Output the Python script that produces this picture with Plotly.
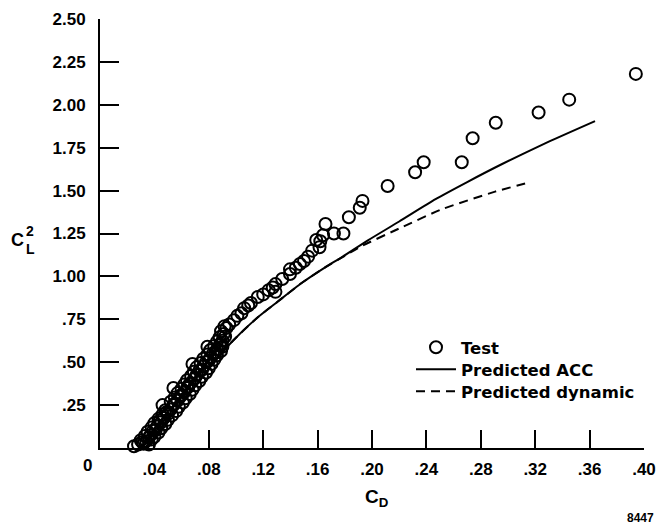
import plotly.graph_objects as go

# ---- data ----
test_cd = [
    # dense band, low C_D
    0.028, 0.032, 0.036, 0.030, 0.034, 0.038, 0.033, 0.037, 0.040, 0.035, 0.039, 0.043,
    0.038, 0.042, 0.045, 0.040, 0.045, 0.048, 0.043, 0.047, 0.050, 0.046, 0.050, 0.053,
    0.048, 0.052, 0.056, 0.046, 0.054, 0.058, 0.052, 0.057, 0.061, 0.055, 0.059, 0.063,
    0.057, 0.062, 0.066, 0.054, 0.060, 0.064, 0.068, 0.062, 0.066, 0.070, 0.064, 0.069,
    0.073, 0.067, 0.071, 0.075, 0.069, 0.073, 0.078, 0.068, 0.071, 0.076, 0.080, 0.074,
    0.078, 0.082, 0.076, 0.081, 0.084, 0.079, 0.083, 0.086, 0.079, 0.081, 0.086, 0.089,
    0.084, 0.088, 0.090, 0.086, 0.090, 0.088, 0.092, 0.089, 0.093, 0.0916,
    0.025, 0.031, 0.036, 0.041, 0.044, 0.049, 0.055, 0.060, 0.065, 0.070, 0.075, 0.080,
    0.085, 0.089, 0.091,
    # chain, mid C_D
    0.095, 0.0985, 0.101, 0.104, 0.106, 0.109, 0.111, 0.116, 0.120, 0.124, 0.127, 0.129,
    0.129, 0.134, 0.1397, 0.1397, 0.144, 0.147, 0.150, 0.153, 0.156, 0.159, 0.1614, 0.162,
    0.164, 0.1658, 0.172, 0.179, 0.183, 0.191, 0.193,
    # sparse, high C_D
    0.2115, 0.2317, 0.238, 0.266, 0.274, 0.291, 0.3225, 0.345, 0.394,
]
test_cl2 = [
    0.020, 0.025, 0.020, 0.045, 0.040, 0.050, 0.070, 0.075, 0.065, 0.095, 0.100, 0.090,
    0.120, 0.125, 0.115, 0.145, 0.150, 0.140, 0.170, 0.175, 0.165, 0.195, 0.200, 0.190,
    0.220, 0.225, 0.215, 0.250, 0.250, 0.240, 0.270, 0.275, 0.265, 0.295, 0.300, 0.290,
    0.320, 0.325, 0.315, 0.350, 0.345, 0.350, 0.340, 0.370, 0.375, 0.365, 0.395, 0.400,
    0.390, 0.420, 0.425, 0.415, 0.445, 0.450, 0.440, 0.490, 0.470, 0.475, 0.465, 0.495,
    0.500, 0.490, 0.520, 0.525, 0.515, 0.545, 0.550, 0.540, 0.590, 0.570, 0.575, 0.565,
    0.595, 0.600, 0.590, 0.620, 0.625, 0.645, 0.650, 0.680, 0.700, 0.710,
    0.010, 0.035, 0.060, 0.105, 0.160, 0.210, 0.260, 0.310, 0.360, 0.410, 0.455, 0.510,
    0.555, 0.610, 0.665,
    0.720, 0.745, 0.770, 0.785, 0.815, 0.830, 0.845, 0.880, 0.895, 0.920, 0.935, 0.955,
    0.910, 0.985, 1.041, 1.014, 1.050, 1.072, 1.090, 1.115, 1.150, 1.212, 1.170, 1.205,
    1.240, 1.305, 1.250, 1.250, 1.345, 1.400, 1.440,
    1.527, 1.607, 1.665, 1.665, 1.805, 1.895, 1.955, 2.030, 2.180,
]

acc_cd = [0.034, 0.050, 0.070, 0.085, 0.0965, 0.115, 0.131, 0.148, 0.165, 0.1776,
          0.197, 0.220, 0.2467, 0.270, 0.2957, 0.330, 0.364]
acc_cl2 = [0.0, 0.165, 0.36, 0.51, 0.615, 0.755, 0.855, 0.96, 1.05, 1.111,
           1.21, 1.32, 1.45, 1.55, 1.655, 1.785, 1.905]

dyn_cd = [0.034, 0.050, 0.070, 0.085, 0.0965, 0.115, 0.131, 0.148, 0.165, 0.180,
          0.192, 0.2218, 0.251, 0.2905, 0.316]
dyn_cl2 = [0.0, 0.165, 0.36, 0.51, 0.615, 0.755, 0.855, 0.96, 1.05, 1.12,
           1.175, 1.286, 1.39, 1.494, 1.548]

x_tickvals = [0.04, 0.08, 0.12, 0.16, 0.20, 0.24, 0.28, 0.32, 0.36, 0.40]
x_ticktext = [".04", ".08", ".12", ".16", ".20", ".24", ".28", ".32", ".36", ".40"]
y_tickvals = [0.25, 0.5, 0.75, 1.0, 1.25, 1.5, 1.75, 2.0, 2.25, 2.5]
y_ticktext = [".25", ".50", ".75", "1.00", "1.25", "1.50", "1.75", "2.00", "2.25", "2.50"]

FONT = "Liberation Sans, Arial, Helvetica, sans-serif"
LEGEND_FONT = "DejaVu Sans, Verdana, sans-serif"

# plot area in pixels: x 100..644, y 19..448
def px(xp):
    return (xp - 100) / 544

def py(yp):
    return (448 - yp) / 429

fig = go.Figure()
fig.add_trace(go.Scatter(
    x=test_cd, y=test_cl2, mode="markers", name="Test", legend="legend",
    marker=dict(symbol="circle-open", size=12, color="black", line=dict(width=2, color="black")),
    cliponaxis=False,
))
fig.add_trace(go.Scatter(
    x=acc_cd, y=acc_cl2, mode="lines", name="Predicted ACC", legend="legend2",
    line=dict(color="black", width=2, shape="spline", smoothing=0.6),
))
fig.add_trace(go.Scatter(
    x=dyn_cd, y=dyn_cl2, mode="lines", name="Predicted dynamic", legend="legend3",
    line=dict(color="black", width=2, dash="9px,6px", shape="spline", smoothing=0.6),
))

ann = [
    dict(text="0", x=px(87), y=py(465), size=17),
    dict(text="C", x=px(17), y=py(240), size=18),
    dict(text="2", x=px(30), y=py(231), size=14),
    dict(text="L", x=px(30), y=py(249), size=14),
    dict(text="C<sub>D</sub>", x=px(377), y=py(498), size=19),
]
annotations = []
for a in ann:
    annotations.append(dict(
        text=a["text"], x=a["x"], y=a["y"], xref="paper", yref="paper",
        showarrow=False, xanchor="center", yanchor="middle",
        font=dict(family=FONT, size=a["size"], color="black", weight="bold"),
    ))
annotations.append(dict(
    text="8447", x=px(640), y=py(518), xref="paper", yref="paper",
    showarrow=False, xanchor="center", yanchor="middle",
    font=dict(family=FONT, size=12, color="black"),
))

legend_font = dict(family=LEGEND_FONT, size=16.5, color="black", weight="bold")
def make_legend(top):
    return dict(
        x=px(411), y=py(top), xanchor="left", yanchor="top",
        bgcolor="rgba(0,0,0,0)", itemwidth=40, font=legend_font,
    )

tick_font = dict(family=FONT, size=17, color="black", weight="bold")

fig.update_layout(
    width=657, height=529,
    margin=dict(l=100, r=13, t=19, b=81),
    paper_bgcolor="white", plot_bgcolor="white",
    font=dict(family=FONT, size=17, color="black", weight="bold"),
    showlegend=True,
    legend=make_legend(330),
    legend2=make_legend(352),
    legend3=make_legend(374),
    annotations=annotations,
)
fig.update_xaxes(
    range=[0, 0.40], showgrid=False, zeroline=False, automargin=False,
    showline=True, linecolor="black", linewidth=2,
    ticks="inside", ticklen=18, tickwidth=1.5, tickcolor="black",
    tickvals=x_tickvals, ticktext=x_ticktext, ticklabelstandoff=5,
    ticklabeloverflow="allow", tickfont=tick_font,
)
fig.update_yaxes(
    range=[0, 2.5], showgrid=False, zeroline=False, automargin=False,
    showline=True, linecolor="black", linewidth=2,
    ticks="inside", ticklen=19, tickwidth=1.5, tickcolor="black",
    tickvals=y_tickvals, ticktext=y_ticktext, ticklabelstandoff=9,
    ticklabeloverflow="allow", tickfont=tick_font,
)

fig.write_html(
    "out.html",
    config={"displayModeBar": False},
    post_script="document.body.style.margin='0px';document.body.style.padding='0px';",
)
